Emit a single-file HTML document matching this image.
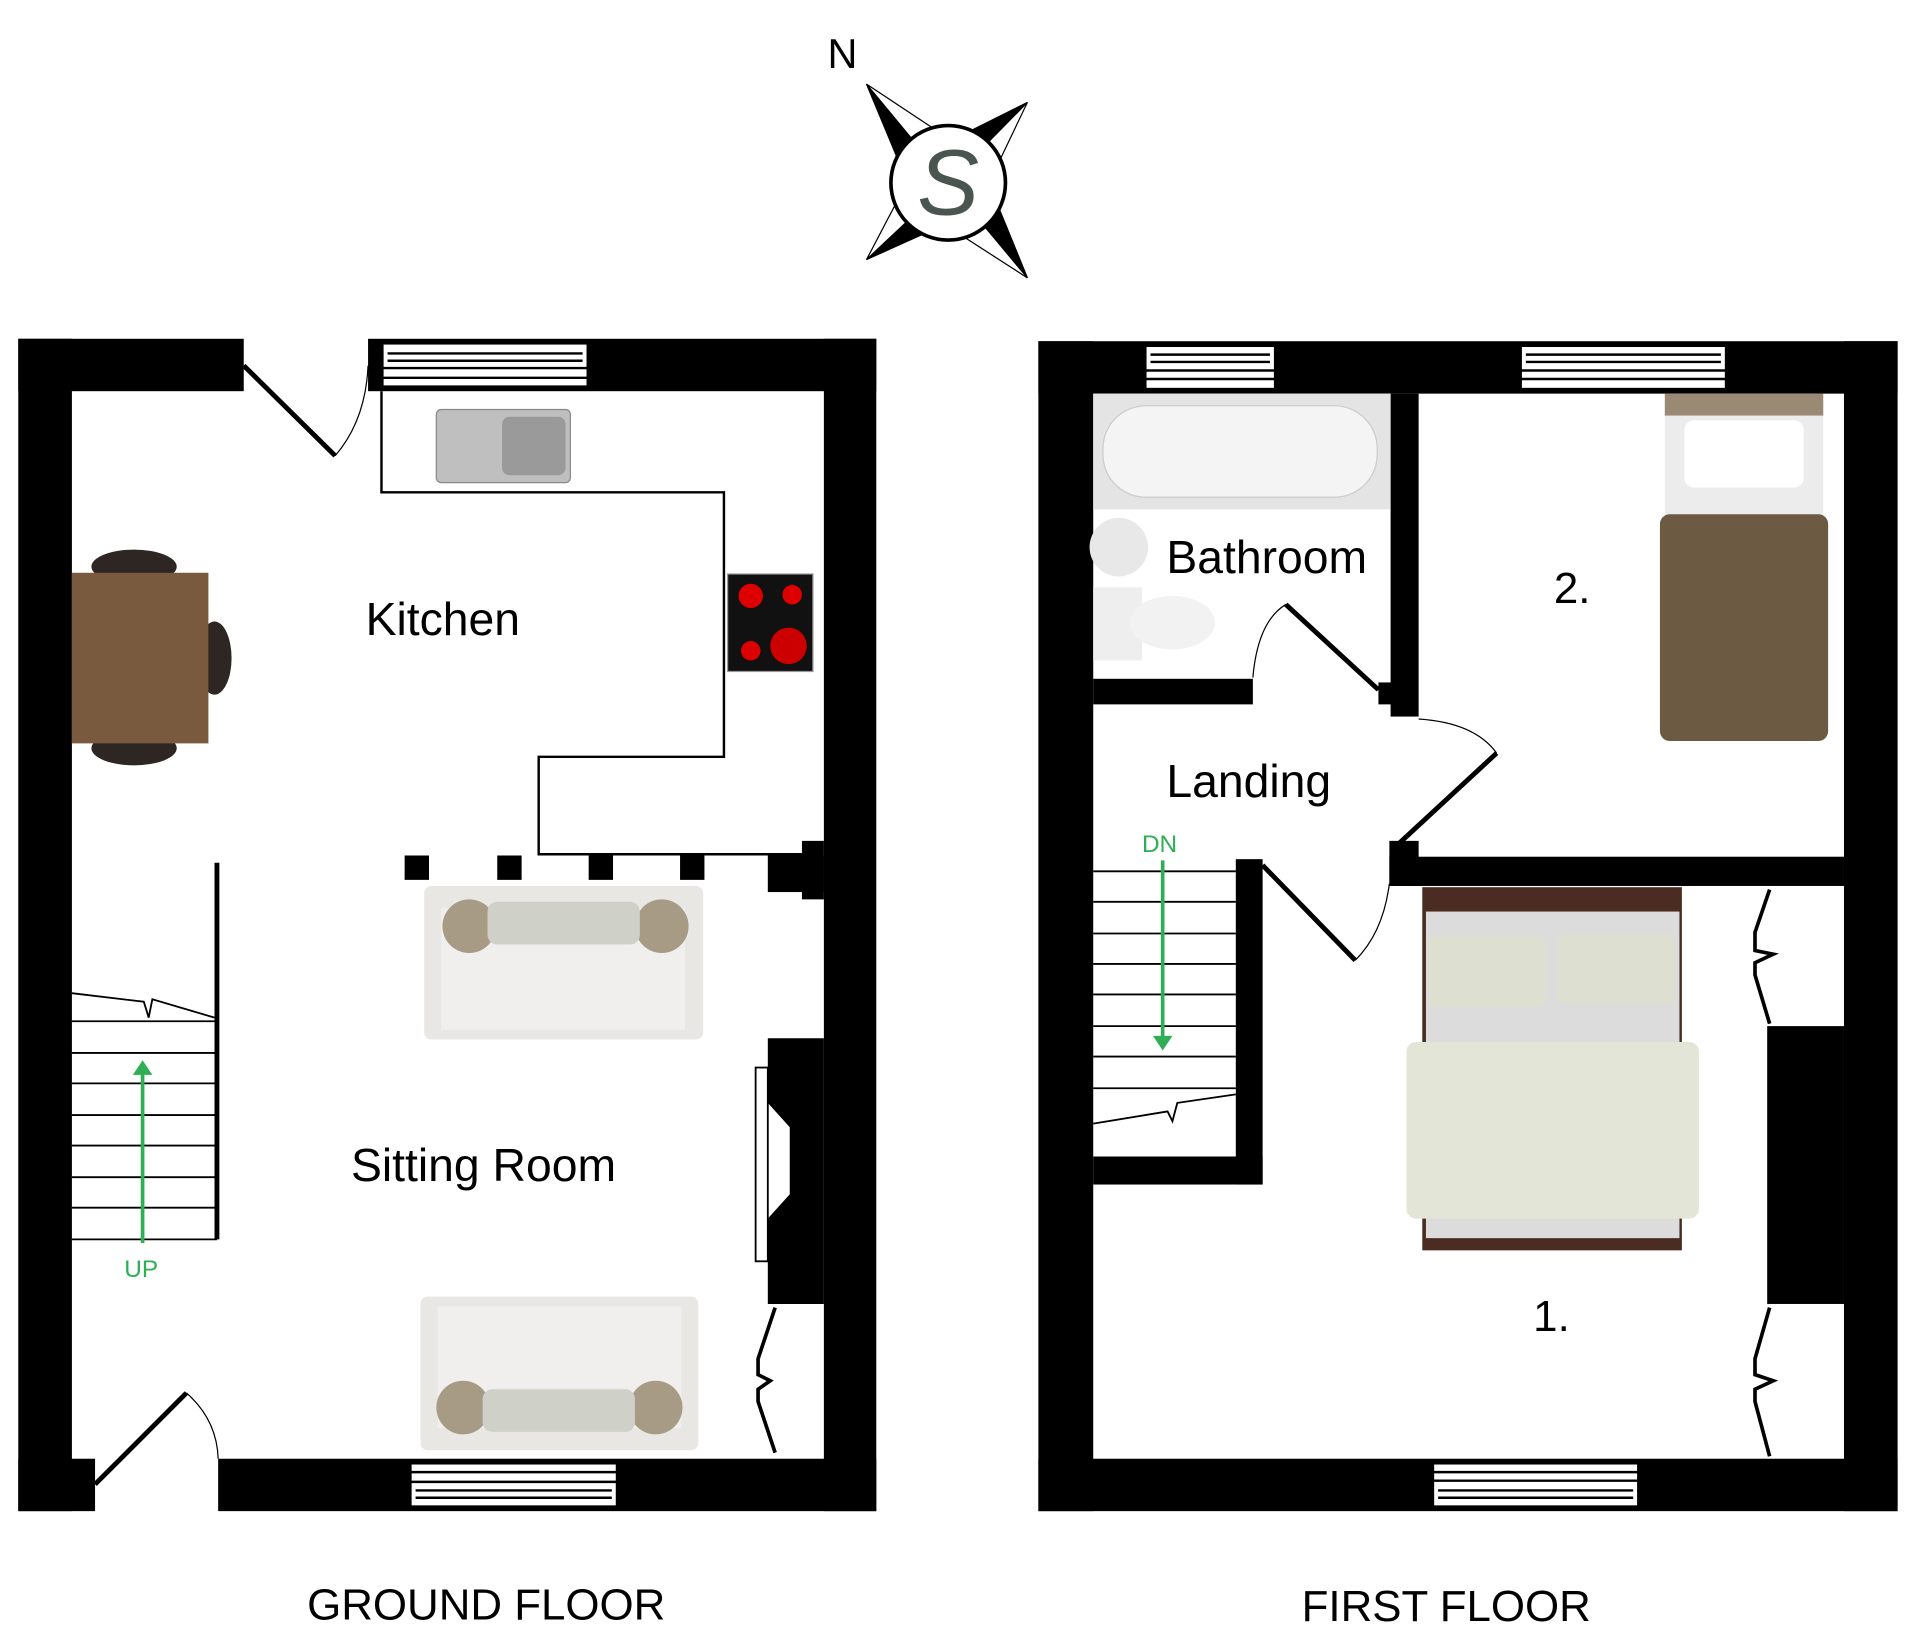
<!DOCTYPE html>
<html><head><meta charset="utf-8"><style>
html,body{margin:0;padding:0;background:#fff;}
svg{display:block;}
text{font-family:"Liberation Sans","DejaVu Sans",sans-serif;}
</style></head><body>
<svg width="1911" height="1633" viewBox="0 0 1568 1340" preserveAspectRatio="none" xmlns="http://www.w3.org/2000/svg">
<rect width="1568" height="1340" fill="#fff"/>
<!-- Compass -->
<g stroke="#000" stroke-width="1">
<polygon points="711,69 778,150 753,170" fill="#000"/>
<polygon points="711,69 778,150 803,130" fill="#fff"/>
<polygon points="843,84 778,150 755,128" fill="#000"/>
<polygon points="843,84 778,150 801,172" fill="#fff"/>
<polygon points="843,228 778,150 803,130" fill="#000"/>
<polygon points="843,228 778,150 753,170" fill="#fff"/>
<polygon points="711,213 778,150 800,173" fill="#000"/>
<polygon points="711,213 778,150 756,127" fill="#fff"/>
</g>
<circle cx="778" cy="150" r="47" fill="#fff" stroke="#000" stroke-width="3"/>
<text x="778" y="176" font-size="76" text-anchor="middle" fill="#4a5550" font-family="Liberation Serif,serif" font-style="italic">S</text>
<text x="679" y="56" font-size="34">N</text>

<!-- GROUND FLOOR walls -->
<g fill="#000">
<rect x="15" y="278" width="185" height="43"/>
<rect x="302" y="278" width="417" height="43"/>
<rect x="15" y="278" width="44" height="962"/>
<rect x="676" y="278" width="43" height="962"/>
<rect x="15" y="1197" width="63" height="43"/>
<rect x="179" y="1197" width="540" height="43"/>
<rect x="332" y="702" width="20" height="20"/>
<rect x="408" y="702" width="20" height="20"/>
<rect x="483" y="702" width="20" height="20"/>
<rect x="558" y="702" width="20" height="20"/>
<rect x="630" y="702" width="46" height="30"/>
<rect x="658" y="690" width="18" height="48"/>
<polygon points="630,852 676,852 676,1070 630,1070 630,1000 648,980 648,925 630,905"/>
</g>
<!-- windows GF -->
<g fill="#fff" stroke="#000" stroke-width="1.5">
<rect x="314" y="282" width="168" height="35"/>
<rect x="337" y="1201" width="169" height="35"/>
</g>
<g stroke="#000" stroke-width="2">
<line x1="318" y1="290" x2="478" y2="290"/><line x1="318" y1="296" x2="478" y2="296"/><line x1="314" y1="302" x2="482" y2="302"/><line x1="314" y1="310" x2="482" y2="310"/>
<line x1="337" y1="1208" x2="506" y2="1208"/><line x1="337" y1="1216" x2="506" y2="1216"/><line x1="341" y1="1223" x2="502" y2="1223"/><line x1="341" y1="1229" x2="502" y2="1229"/>
</g>
<!-- doors GF -->
<g fill="none" stroke="#000">
<line x1="200" y1="300" x2="275" y2="374" stroke-width="4"/>
<path d="M275,374 Q300,345 302,300" stroke-width="1"/>
<line x1="78" y1="1218" x2="153" y2="1143" stroke-width="4"/>
<path d="M153,1143 Q178,1165 179,1197" stroke-width="1"/>
<polyline points="313,321 313,404 594,404 594,621 442,621 442,701 658,701" stroke-width="2"/>
<rect x="620" y="876" width="10" height="159" stroke-width="1.5"/>
<polyline points="636,1073 622,1115 622,1128 632,1133 622,1140 622,1150 636,1192" stroke-width="3"/>
<line x1="178" y1="708" x2="178" y2="1017" stroke-width="4"/>
<polyline points="59,815 118,822 122,835 125,820 176,835" stroke-width="1.5"/>
</g>
<g stroke="#000" stroke-width="1.5">
<line x1="59" y1="838" x2="178" y2="838"/><line x1="59" y1="864" x2="178" y2="864"/><line x1="59" y1="889" x2="178" y2="889"/><line x1="59" y1="915" x2="178" y2="915"/><line x1="59" y1="940" x2="178" y2="940"/><line x1="59" y1="966" x2="178" y2="966"/><line x1="59" y1="991" x2="178" y2="991"/><line x1="59" y1="1017" x2="178" y2="1017"/>
</g>
<line x1="117" y1="1020" x2="117" y2="880" stroke="#2fae55" stroke-width="3"/>
<polygon points="109,882 117,870 125,882" fill="#2fae55"/>
<text x="102" y="1048" font-size="20" fill="#2fae55">UP</text>
<!-- dining table -->
<ellipse cx="110" cy="465" rx="35" ry="14" fill="#2d2622"/>
<ellipse cx="110" cy="614" rx="35" ry="14" fill="#2d2622"/>
<ellipse cx="176" cy="540" rx="14" ry="30" fill="#2d2622"/>
<rect x="59" y="470" width="112" height="140" fill="#7a5a3e"/>
<!-- sink -->
<rect x="358" y="336" width="110" height="60" rx="4" fill="#bfbfbf" stroke="#888"/>
<rect x="412" y="342" width="52" height="48" rx="6" fill="#9a9a9a"/>
<!-- hob -->
<rect x="597" y="471" width="70" height="80" fill="#111" stroke="#999"/>
<circle cx="616" cy="489" r="10" fill="#d00"/><circle cx="650" cy="488" r="8" fill="#d00"/>
<circle cx="616" cy="534" r="8" fill="#d00"/><circle cx="647" cy="530" r="15" fill="#c00"/>
<!-- sofas -->
<rect x="348" y="727" width="229" height="126" rx="6" fill="#e9e7e4"/>
<rect x="362" y="745" width="200" height="100" fill="#f0efed"/>
<ellipse cx="385" cy="760" rx="22" ry="22" fill="#a89b86"/><ellipse cx="543" cy="760" rx="22" ry="22" fill="#a89b86"/>
<rect x="400" y="740" width="125" height="35" rx="8" fill="#cfd0c8"/>
<rect x="345" y="1064" width="228" height="126" rx="6" fill="#e9e7e4"/>
<rect x="359" y="1072" width="200" height="100" fill="#f0efed"/>
<ellipse cx="380" cy="1155" rx="22" ry="22" fill="#a89b86"/><ellipse cx="538" cy="1155" rx="22" ry="22" fill="#a89b86"/>
<rect x="396" y="1140" width="125" height="35" rx="8" fill="#cfd0c8"/>
<text x="300" y="521" font-size="38">Kitchen</text>
<text x="288" y="969" font-size="38">Sitting Room</text>
<text x="252" y="1329" font-size="36">GROUND FLOOR</text>

<!-- FIRST FLOOR -->
<g fill="#000">
<rect x="852" y="280" width="705" height="43"/>
<rect x="852" y="280" width="45" height="960"/>
<rect x="1513" y="280" width="44" height="960"/>
<rect x="852" y="1197" width="705" height="43"/>
<rect x="1141" y="323" width="23" height="265"/>
<rect x="1131" y="560" width="17" height="18"/>
<rect x="897" y="557" width="131" height="21"/>
<rect x="1140" y="703" width="373" height="24"/>
<rect x="1140" y="690" width="24" height="37"/>
<rect x="1014" y="705" width="22" height="267"/>
<rect x="897" y="949" width="139" height="23"/>
<rect x="1450" y="842" width="63" height="228"/>
</g>
<g fill="#fff" stroke="#000" stroke-width="1.5">
<rect x="940" y="284" width="106" height="35"/>
<rect x="1248" y="284" width="168" height="35"/>
<rect x="1176" y="1201" width="168" height="35"/>
</g>
<g stroke="#000" stroke-width="2">
<line x1="944" y1="291" x2="1042" y2="291"/><line x1="944" y1="297" x2="1042" y2="297"/><line x1="940" y1="304" x2="1046" y2="304"/><line x1="940" y1="311" x2="1046" y2="311"/>
<line x1="1252" y1="291" x2="1412" y2="291"/><line x1="1252" y1="297" x2="1412" y2="297"/><line x1="1248" y1="304" x2="1416" y2="304"/><line x1="1248" y1="311" x2="1416" y2="311"/>
<line x1="1176" y1="1208" x2="1344" y2="1208"/><line x1="1176" y1="1215" x2="1344" y2="1215"/><line x1="1180" y1="1223" x2="1340" y2="1223"/><line x1="1180" y1="1229" x2="1340" y2="1229"/>
</g>
<g fill="none" stroke="#000">
<line x1="1055" y1="496" x2="1131" y2="566" stroke-width="4"/>
<path d="M1028,556 Q1032,510 1055,496" stroke-width="1"/>
<line x1="1148" y1="692" x2="1228" y2="618" stroke-width="4"/>
<path d="M1164,590 Q1210,593 1228,618" stroke-width="1"/>
<line x1="1036" y1="710" x2="1112" y2="788" stroke-width="4"/>
<path d="M1112,788 Q1135,765 1140,725" stroke-width="1"/>
<polyline points="1452,730 1440,765 1440,780 1455,783 1440,790 1440,800 1452,840" stroke-width="3"/>
<polyline points="1452,1073 1440,1115 1440,1128 1455,1133 1440,1140 1440,1150 1452,1195" stroke-width="3"/>
<polyline points="897,922 958,912 962,920 966,905 1014,898" stroke-width="1.5"/>
</g>
<g stroke="#000" stroke-width="1.5">
<line x1="897" y1="715" x2="1014" y2="715"/><line x1="897" y1="740" x2="1014" y2="740"/><line x1="897" y1="766" x2="1014" y2="766"/><line x1="897" y1="791" x2="1014" y2="791"/><line x1="897" y1="816" x2="1014" y2="816"/><line x1="897" y1="842" x2="1014" y2="842"/><line x1="897" y1="867" x2="1014" y2="867"/><line x1="897" y1="893" x2="1014" y2="893"/>
</g>
<line x1="954" y1="706" x2="954" y2="852" stroke="#2fae55" stroke-width="3"/>
<polygon points="946,850 954,862 962,850" fill="#2fae55"/>
<text x="937" y="699" font-size="20" fill="#2fae55">DN</text>
<rect x="897" y="323" width="244" height="95" fill="#e4e4e4"/>
<rect x="905" y="333" width="225" height="75" rx="35" fill="#f4f4f4" stroke="#ccc"/>
<ellipse cx="918" cy="449" rx="24" ry="24" fill="#e8e8e8"/>
<rect x="897" y="482" width="40" height="60" fill="#eee"/>
<ellipse cx="962" cy="511" rx="35" ry="22" fill="#f2f2f2"/>
<rect x="1366" y="323" width="130" height="285" rx="6" fill="#ececec"/>
<rect x="1366" y="323" width="130" height="18" fill="#9a8a75"/>
<rect x="1382" y="345" width="98" height="55" rx="8" fill="#fff"/>
<rect x="1362" y="422" width="138" height="186" rx="8" fill="#6c5a42"/>
<rect x="1167" y="728" width="213" height="298" fill="#4a2c22"/>
<rect x="1170" y="748" width="208" height="268" fill="#dcdcdc"/>
<rect x="1172" y="768" width="96" height="58" rx="6" fill="#dde0d0"/>
<rect x="1278" y="766" width="96" height="58" rx="6" fill="#dde0d0"/>
<rect x="1154" y="855" width="240" height="145" rx="8" fill="#e3e6d6"/>
<text x="957" y="470" font-size="38">Bathroom</text>
<text x="957" y="654" font-size="38">Landing</text>
<text x="1275" y="495" font-size="36">2.</text>
<text x="1258" y="1092" font-size="36">1.</text>
<text x="1068" y="1330" font-size="36">FIRST FLOOR</text>
</svg>
</body></html>
